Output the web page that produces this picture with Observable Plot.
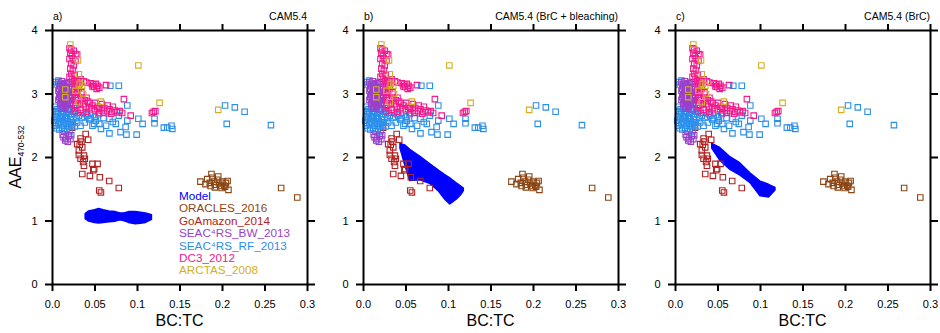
<!DOCTYPE html>
<html><head><meta charset="utf-8">
<script src="https://cdn.jsdelivr.net/npm/d3@7"></script>
<script src="https://cdn.jsdelivr.net/npm/@observablehq/plot@0.6"></script>
<style>
body{margin:0;background:#fff;font-family:"Liberation Sans",Arial,Helvetica,sans-serif;}
#wrap{position:relative;width:940px;height:333px;overflow:hidden;background:#fff;}
.panel{position:absolute;top:0;}
.lbl{position:absolute;white-space:nowrap;color:#000;line-height:1;}
</style></head><body><div id="wrap"></div>
<script>
// ---- tick values & labels ----
const xTicks = [0, 0.05, 0.1, 0.15, 0.2, 0.25, 0.3];
const xTickLabels = ["0.0", "0.05", "0.1", "0.15", "0.2", "0.25", "0.3"];
const yTicks = [0, 1, 2, 3, 4];
const yTickLabels = ["0", "1", "2", "3", "4"];
const panelTags = ["a)", "b)", "c)"];
const panelTitles = ["CAM5.4", "CAM5.4 (BrC + bleaching)", "CAM5.4 (BrC)"];
const xLabel = "BC:TC";
const seriesNames = ["Model", "ORACLES_2016", "GoAmazon_2014", "SEAC⁴RS_BW_2013", "SEAC⁴RS_RF_2013", "DC3_2012", "ARCTAS_2008"];
const seriesColors = ["#0000ff", "#8b4513", "#b22222", "#9a3fcc", "#2b8fec", "#f21a8c", "#d4ae24"];

// ---- model envelopes (x, lower AAE, upper AAE) ----
const modelA_x  = [0.039, 0.043, 0.050, 0.055, 0.060, 0.067, 0.0745, 0.080, 0.084, 0.090, 0.098, 0.104, 0.110, 0.117];
const modelA_lo = [1.03, 0.99, 0.97, 0.96, 0.97, 0.98, 0.99, 1.01, 1.00, 0.97, 0.95, 0.955, 0.97, 1.02];
const modelA_hi = [1.11, 1.15, 1.17, 1.19, 1.17, 1.15, 1.14, 1.12, 1.12, 1.14, 1.14, 1.13, 1.12, 1.09];

const modelB_x  = [0.0435, 0.049, 0.055, 0.067, 0.079, 0.089, 0.0965, 0.102, 0.110, 0.115, 0.118];
const modelB_lo = [2.14, 1.88, 1.63, 1.64, 1.58, 1.46, 1.33, 1.26, 1.34, 1.41, 1.47];
const modelB_hi = [2.215, 2.19, 2.12, 2.01, 1.89, 1.79, 1.72, 1.67, 1.59, 1.54, 1.51];

const modelC_x  = [0.0432, 0.0526, 0.064, 0.076, 0.088, 0.100, 0.110, 0.1176];
const modelC_lo = [2.14, 1.95, 1.81, 1.72, 1.60, 1.39, 1.37, 1.48];
const modelC_hi = [2.215, 2.15, 2.01, 1.91, 1.75, 1.62, 1.57, 1.52];

// ---- observations [BC:TC, AAE] ----
const oracles2016 = [[0.174,1.62],[0.187,1.74],[0.182,1.66],[0.185,1.60],[0.188,1.68],[0.190,1.62],[0.192,1.57],[0.194,1.65],[0.196,1.59],[0.198,1.55],[0.200,1.62],[0.202,1.56],[0.204,1.60],[0.206,1.63],[0.207,1.49],[0.186,1.55],[0.180,1.58],[0.195,1.70],[0.191,1.53],[0.199,1.52],[0.203,1.54],[0.269,1.52],[0.288,1.37]];
const goAmazon2014 = [[0.023,2.47],[0.039,2.37],[0.042,2.28],[0.033,2.30],[0.034,2.25],[0.032,2.20],[0.029,2.21],[0.035,2.16],[0.031,2.11],[0.031,2.04],[0.033,1.98],[0.037,2.03],[0.038,1.98],[0.037,1.87],[0.047,1.90],[0.053,1.90],[0.049,1.82],[0.048,1.80],[0.035,1.74],[0.044,1.71],[0.0557,1.69],[0.0667,1.63],[0.078,1.52],[0.055,1.48],[0.057,1.45],[0.036,1.93]];
const seacBW2013 = [[0.007,3.18],[0.011,3.20],[0.015,3.17],[0.019,3.19],[0.009,3.12],[0.013,3.10],[0.017,3.13],[0.021,3.11],[0.007,3.05],[0.011,3.03],[0.015,3.06],[0.019,3.04],[0.023,3.07],[0.009,2.98],[0.013,2.96],[0.017,2.99],[0.021,2.97],[0.007,2.91],[0.011,2.89],[0.015,2.92],[0.019,2.90],[0.023,2.93],[0.009,2.84],[0.013,2.82],[0.017,2.85],[0.021,2.83],[0.011,2.77],[0.015,2.79],[0.019,2.76],[0.012,3.15],[0.016,3.01],[0.010,2.94],[0.018,2.87],[0.014,2.86],[0.009,3.16],[0.013,3.14],[0.017,3.16],[0.008,3.08],[0.012,3.07],[0.016,3.09],[0.020,3.08],[0.010,3.01],[0.014,3.00],[0.018,3.02],[0.008,2.95],[0.012,2.93],[0.016,2.95],[0.020,2.94],[0.010,2.87],[0.014,2.89],[0.020,2.86],[0.012,2.80],[0.016,2.82],[0.013,2.32],[0.016,2.30],[0.019,2.34],[0.015,2.27],[0.018,2.25],[0.022,2.35],[0.012,2.36],[0.021,2.29]];
const seacRF2013 = [[0.003,2.80],[0.006,2.76],[0.009,2.78],[0.012,2.74],[0.015,2.77],[0.018,2.72],[0.021,2.75],[0.024,2.72],[0.004,2.73],[0.007,2.70],[0.010,2.68],[0.013,2.71],[0.016,2.66],[0.019,2.69],[0.022,2.64],[0.026,2.68],[0.003,2.64],[0.006,2.61],[0.009,2.63],[0.012,2.59],[0.015,2.62],[0.018,2.57],[0.021,2.60],[0.024,2.55],[0.028,2.62],[0.004,2.55],[0.007,2.52],[0.010,2.54],[0.013,2.50],[0.016,2.53],[0.019,2.48],[0.022,2.51],[0.026,2.49],[0.005,2.46],[0.008,2.44],[0.011,2.47],[0.014,2.42],[0.017,2.45],[0.020,2.41],[0.003,2.50],[0.029,2.55],[0.031,2.66],[0.025,2.78],[0.002,2.58],[0.005,2.68],[0.008,2.57],[0.011,2.64],[0.014,2.55],[0.017,2.61],[0.020,2.53],[0.023,2.68],[0.004,3.19],[0.007,3.21],[0.005,3.15],[0.033,2.50],[0.035,2.63],[0.041,2.66],[0.049,2.53],[0.051,2.58],[0.047,2.50],[0.055,2.53],[0.057,2.45],[0.063,2.50],[0.067,2.61],[0.067,2.38],[0.071,2.56],[0.0745,2.53],[0.078,2.66],[0.080,2.40],[0.086,2.48],[0.087,2.36],[0.088,2.58],[0.088,2.82],[0.099,2.36],[0.101,2.61],[0.106,2.53],[0.120,2.54],[0.120,2.61],[0.131,2.47],[0.135,2.47],[0.140,2.50],[0.141,2.45],[0.068,3.13],[0.078,3.13],[0.203,2.82],[0.2145,2.79],[0.226,2.72],[0.205,2.53],[0.257,2.51],[0.038,2.55],[0.043,2.60],[0.060,2.62],[0.054,2.68],[0.045,2.62],[0.039,2.68],[0.050,2.64]];
const dc32012 = [[0.020,3.72],[0.022,3.70],[0.025,3.68],[0.021,3.65],[0.027,3.63],[0.023,3.60],[0.029,3.62],[0.024,3.56],[0.020,3.55],[0.027,3.52],[0.022,3.48],[0.025,3.45],[0.021,3.40],[0.024,3.37],[0.022,3.32],[0.026,3.30],[0.020,3.27],[0.023,3.24],[0.028,3.22],[0.025,3.20],[0.027,3.17],[0.033,3.23],[0.030,3.20],[0.026,3.12],[0.029,3.10],[0.031,3.08],[0.027,3.05],[0.029,3.02],[0.026,2.99],[0.034,3.03],[0.027,2.95],[0.045,3.17],[0.048,3.15],[0.051,3.16],[0.053,3.13],[0.049,3.11],[0.055,3.10],[0.052,3.08],[0.047,3.12],[0.063,3.14],[0.084,2.92],[0.119,2.72],[0.117,2.70],[0.121,2.73],[0.092,2.66],[0.037,3.20],[0.040,3.18],[0.030,2.95],[0.034,2.92],[0.038,2.90],[0.040,2.94],[0.042,2.88],[0.028,2.90],[0.032,2.86],[0.036,2.84],[0.044,2.85],[0.047,2.82],[0.050,2.86],[0.053,2.80],[0.039,2.80],[0.043,2.78],[0.027,2.83],[0.029,2.78],[0.033,2.75],[0.046,2.76],[0.050,2.74],[0.055,2.77],[0.058,2.74],[0.061,2.78],[0.064,2.73],[0.067,2.76],[0.070,2.72],[0.073,2.74],[0.076,2.71],[0.079,2.73],[0.082,2.70],[0.060,2.70],[0.055,2.70],[0.040,2.72],[0.036,2.70],[0.027,2.73],[0.069,2.69],[0.065,2.82],[0.071,2.80],[0.058,2.84]];
const arctas2008 = [[0.021,3.78],[0.030,3.53],[0.101,3.45],[0.031,3.31],[0.015,3.07],[0.035,3.13],[0.032,3.16],[0.015,2.95],[0.036,3.00],[0.057,2.88],[0.031,2.87],[0.126,2.86],[0.195,2.75],[0.027,3.05]];

// drawing order (index into seriesNames/seriesColors)
const obsSeries = [[oracles2016, 1], [goAmazon2014, 2], [seacRF2013, 4], [seacBW2013, 3], [dc32012, 5], [arctas2008, 6]];
const models = [[modelA_x, modelA_lo, modelA_hi], [modelB_x, modelB_lo, modelB_hi], [modelC_x, modelC_lo, modelC_hi]];

const wrap = document.getElementById("wrap");
const offsets = [0, 311, 623];
const FONT = "Liberation Sans, Arial, Helvetica, sans-serif";
const xFmt = d => xTickLabels[xTicks.findIndex(v => Math.abs(v - d) < 1e-9)];
const yFmt = d => yTickLabels[yTicks.findIndex(v => Math.abs(v - d) < 1e-9)];

function addLabel(html, left, top, size, extra) {
  const el = document.createElement("div");
  el.className = "lbl";
  el.innerHTML = html;
  el.style.left = left + "px";
  el.style.top = top + "px";
  el.style.fontSize = size + "px";
  if (extra) Object.assign(el.style, extra);
  wrap.appendChild(el);
  return el;
}

models.forEach((m, i) => {
  const [mx, mlo, mhi] = m;
  const rows = mx.map((x, k) => ({x, lo: mlo[k], hi: mhi[k]}));
  const marks = [
    Plot.areaY(rows, {x: "x", y1: "lo", y2: "hi", fill: seriesColors[0], stroke: seriesColors[0], strokeWidth: 1.5})
  ];
  obsSeries.forEach(([s, c]) => {
    marks.push(Plot.dot(s, {x: d => d[0], y: d => d[1], symbol: "square", r: 3.1, stroke: seriesColors[c], strokeWidth: 1.1, fill: "none"}));
  });
  marks.push(
    Plot.frame({stroke: "#000", strokeWidth: 2}),
    Plot.axisX({anchor: "bottom", ticks: xTicks, tickFormat: xFmt, tickSize: 7, tickPadding: 9, strokeWidth: 2, label: null, fontSize: 11}),
    Plot.axisX({anchor: "top", ticks: xTicks, tickFormat: () => "", tickSize: 7, strokeWidth: 2, label: null}),
    Plot.axisY({anchor: "left", ticks: yTicks, tickFormat: yFmt, tickSize: 7, tickPadding: 8, strokeWidth: 2, label: null, fontSize: 11}),
    Plot.axisY({anchor: "right", ticks: yTicks, tickFormat: () => "", tickSize: 7, strokeWidth: 2, label: null})
  );
  const svg = Plot.plot({
    width: 317, height: 333,
    marginLeft: 52, marginRight: 10, marginTop: 30, marginBottom: 49,
    x: {domain: [0, 0.3]},
    y: {domain: [0, 4]},
    style: {fontFamily: FONT, fontSize: "11px", color: "#000", background: "transparent", overflow: "visible"},
    marks
  });
  const holder = document.createElement("div");
  holder.className = "panel";
  holder.style.left = offsets[i] + "px";
  holder.appendChild(svg);
  wrap.appendChild(holder);

  const L = offsets[i] + 52, R = offsets[i] + 307;
  addLabel(panelTags[i], L + 1, 11, 10.5);
  addLabel(panelTitles[i], R - 300, 11, 10.5, {width: "300px", textAlign: "right"});
  addLabel(xLabel, (L + R) / 2 - 60, 313, 16, {width: "120px", textAlign: "center"});
});

// y-axis title
addLabel('AAE<span style="font-size:8.5px;position:relative;top:3px">470-532</span>', 16, 157, 16,
  {transform: "translate(-50%,-50%) rotate(-90deg)", transformOrigin: "center"});

// legend in panel a
seriesNames.forEach((name, k) => {
  addLabel(name, 179, 190 + k * 12.4, 11.7, {color: seriesColors[k]});
});
</script>
</body></html>
